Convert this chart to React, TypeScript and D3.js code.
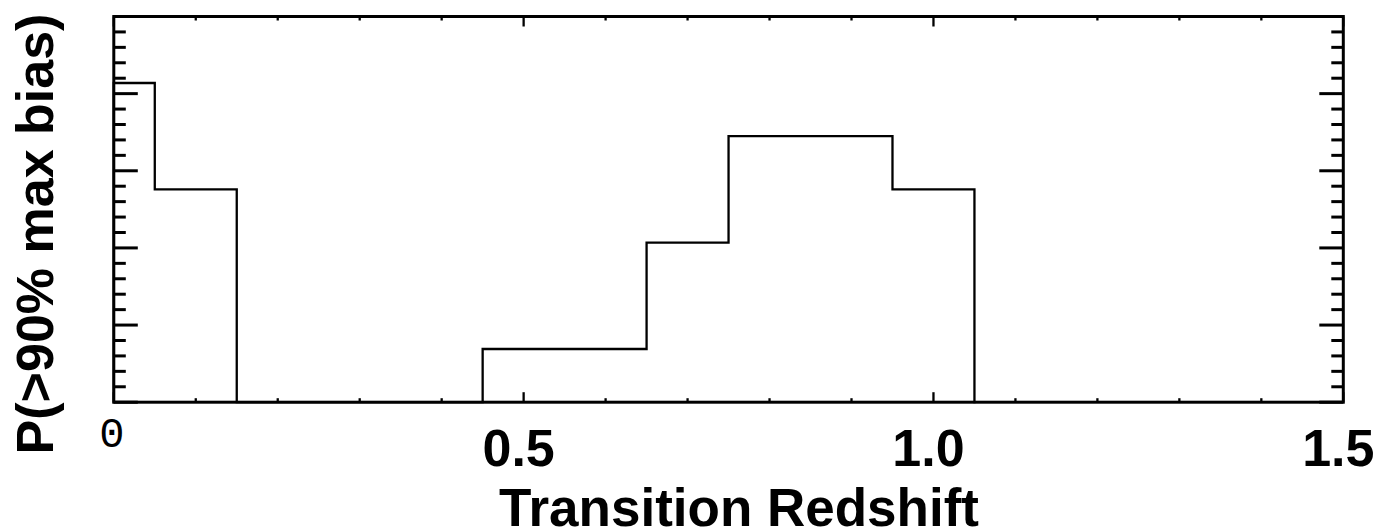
import React from "react";
import * as d3 from "d3";

// Histogram: bin centres (redshift) and counts, normalised by total trials
const binCenters = [0.0, 0.1, 0.2, 0.3, 0.4, 0.5, 0.6, 0.7, 0.8, 0.9, 1.0];
const binCounts = [6, 4, 0, 0, 0, 1, 1, 3, 5, 5, 4];
const totalTrials = 29;
const binWidth = 0.1;

const xMajorTicks = [0, 0.5, 1.0, 1.5];
const xMajorLabels = ["0", "0.5", "1.0", "1.5"];
const xMinorTicks = d3.range(0, 1.5001, 0.1);
const yMajorTicks = [0, 0.05, 0.1, 0.15, 0.2, 0.25];
const yMinorTicks = d3.range(0, 0.2501, 0.01);

const xTitle = "Transition Redshift";
const yTitle = "P(>90% max bias)";

const W = 1376;
const H = 529;
const left = 113.8;
const right = 1343.3;
const top = 16.5;
const bottom = 402.2;

export default function App() {
  const x = d3.scaleLinear().domain([0, 1.5]).range([left, right]);
  const y = d3.scaleLinear().domain([0, 0.25]).range([bottom, top]);

  // build step path
  const pts: [number, number][] = [];
  let prev = 0;
  binCenters.forEach((c, i) => {
    const v = binCounts[i] / totalTrials;
    const x0 = Math.max(0, c - binWidth / 2);
    const x1 = c + binWidth / 2;
    pts.push([x(x0), y(prev)]);
    pts.push([x(x0), y(v)]);
    pts.push([x(x1), y(v)]);
    prev = v;
  });
  pts.push([x(binCenters[binCenters.length - 1] + binWidth / 2), y(0)]);
  const line = d3.line();
  const pathD = line(pts) || "";

  const isMajorX = (t: number) => xMajorTicks.some((m) => Math.abs(m - t) < 1e-6);
  const isMajorY = (t: number) => yMajorTicks.some((m) => Math.abs(m - t) < 1e-6);

  const font = "'Liberation Sans', Arial, Helvetica, sans-serif";

  return (
    <svg
      width={W}
      height={H}
      style={{ position: "absolute", left: 0, top: 0, background: "#fff" }}
    >
      <rect x={0} y={0} width={W} height={H} fill="#fff" />
      {/* histogram */}
      <path d={pathD} fill="none" stroke="#000" strokeWidth={2.3} strokeLinejoin="miter" strokeLinecap="square" />

      {/* x ticks top & bottom */}
      {xMinorTicks.map((t, i) => {
        const len = isMajorX(t) ? 10 : 4;
        const xp = x(t);
        return (
          <g key={"xt" + i}>
            <line x1={xp} x2={xp} y1={bottom} y2={bottom - len} stroke="#000" strokeWidth={2.3} />
            <line x1={xp} x2={xp} y1={top} y2={top + len} stroke="#000" strokeWidth={2.3} />
          </g>
        );
      })}
      {/* y ticks left & right */}
      {yMinorTicks.map((t, i) => {
        const len = isMajorY(t) ? 24 : 12;
        const yp = y(t);
        return (
          <g key={"yt" + i}>
            <line x1={left} x2={left + len} y1={yp} y2={yp} stroke="#000" strokeWidth={3} />
            <line x1={right} x2={right - len} y1={yp} y2={yp} stroke="#000" strokeWidth={3} />
          </g>
        );
      })}

      {/* frame */}
      <rect
        x={left}
        y={top}
        width={right - left}
        height={bottom - top}
        fill="none"
        stroke="#000"
        strokeWidth={3}
      />

      {/* x tick labels */}
      {xMajorTicks.map((t, i) =>
        i === 0 ? (
          <text
            key={"xl" + i}
            x={x(t) - 2}
            y={447}
            textAnchor="middle"
            fontFamily="'Liberation Mono', 'Courier New', monospace"
            fontSize={42}
            fill="#000"
          >
            {xMajorLabels[i]}
          </text>
        ) : (
          <text
            key={"xl" + i}
            x={x(t) - 5}
            y={466}
            textAnchor="middle"
            fontFamily={font}
            fontWeight="bold"
            fontSize={52}
            fill="#000"
          >
            {xMajorLabels[i]}
          </text>
        )
      )}

      {/* axis titles */}
      <text
        x={739}
        y={526}
        textAnchor="middle"
        fontFamily={font}
        fontWeight="bold"
        fontSize={53}
        fill="#000"
      >
        {xTitle}
      </text>
      <text
        transform={`translate(53,234) rotate(-90)`}
        textAnchor="middle"
        fontFamily={font}
        fontWeight="bold"
        fontSize={52}
        fill="#000"
      >
        {yTitle}
      </text>
    </svg>
  );
}
